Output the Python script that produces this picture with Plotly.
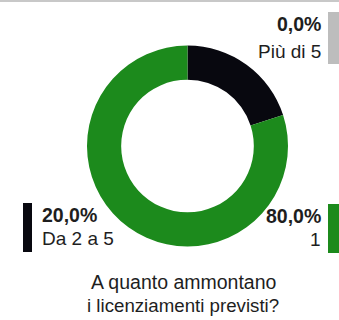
import plotly.graph_objects as go

W, H = 339, 320
categories = ["Più di 5", "Da 2 a 5", "1"]
values = [0.0, 20.0, 80.0]
pct_labels = ["0,0%", "20,0%", "80,0%"]
colors = ["#bdbdbd", "#08080f", "#1c8a1c"]
title_lines = ["A quanto ammontano", "i licenziamenti previsti?"]

FONT = "Liberation Sans, Arial, sans-serif"

def px(x):
    return x / W

def py(y):
    return 1 - y / H

cx, cy, r = 187.5, 146, 100.5

fig = go.Figure(go.Pie(
    labels=categories, values=values, hole=0.66, sort=False,
    direction="clockwise", rotation=0,
    marker=dict(colors=colors, line=dict(width=0)),
    textinfo="none", hoverinfo="label+percent", showlegend=False,
    domain=dict(x=[px(cx - r), px(cx + r)], y=[py(cy + r), py(cy - r)]),
))

ann = []
shapes = []
# (text x, pct y, name y, anchor, bar x0, bar x1, bar y0, bar y1)
layout_info = [
    (323, 24, 52, "right", 328, 339, 12, 64),
    (40, 215, 238, "left", 23, 32, 203, 252),
    (323, 216, 239, "right", 328, 339, 204, 253),
]
for i, (x, y1, y2, anc, bx0, bx1, by0, by1) in enumerate(layout_info):
    ann.append(dict(x=px(x), y=py(y1), xref="paper", yref="paper", text="<b>%s</b>" % pct_labels[i],
                    xanchor=anc, yanchor="middle", showarrow=False,
                    font=dict(family=FONT, size=19.5, color="#1e1e1e")))
    ann.append(dict(x=px(x), y=py(y2), xref="paper", yref="paper", text=categories[i],
                    xanchor=anc, yanchor="middle", showarrow=False,
                    font=dict(family=FONT, size=19, color="#1e1e1e")))
    shapes.append(dict(type="rect", xref="paper", yref="paper", x0=px(bx0), x1=px(bx1),
                       y0=py(by1), y1=py(by0), fillcolor=colors[i], line=dict(width=0)))

ann.append(dict(x=px(184), y=py(282), xref="paper", yref="paper", text=title_lines[0],
                xanchor="center", yanchor="middle", showarrow=False,
                font=dict(family=FONT, size=19.5, color="#1e1e1e")))
ann.append(dict(x=px(182.5), y=py(305), xref="paper", yref="paper", text=title_lines[1],
                xanchor="center", yanchor="middle", showarrow=False,
                font=dict(family=FONT, size=18.7, color="#1e1e1e")))

shapes.append(dict(type="rect", xref="paper", yref="paper", x0=0, x1=1, y0=py(2), y1=1,
                   fillcolor="#c8c8c8", line=dict(width=0)))

fig.update_layout(
    width=W, height=H, margin=dict(l=0, r=0, t=0, b=0),
    paper_bgcolor="white", plot_bgcolor="white",
    annotations=ann, shapes=shapes,
)
fig.write_html("out.html")
